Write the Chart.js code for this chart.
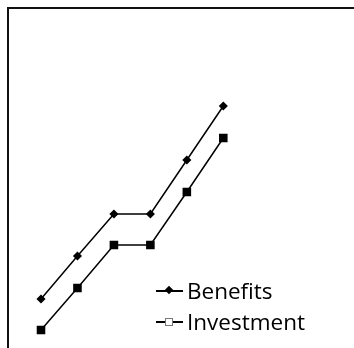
<!DOCTYPE html>
<html>
<head>
<meta charset="utf-8">
<script src="https://cdn.jsdelivr.net/npm/chart.js@4"></script>
<style>
  html, body { margin: 0; padding: 0; background: #fff; overflow: hidden; }
  #wrap { position: relative; width: 354px; height: 348px; }
  #frame {
    position: absolute; left: 7px; top: 7px; width: 400px; height: 400px;
    border-top: 2px solid #111; border-left: 2px solid #111;
  }
  #chart { position: absolute; left: 0; top: 0; }
  #legend {
    position: absolute; left: 156px; top: 275px;
    font-family: "Open Sans", sans-serif; font-size: 22.5px; color: #000;
  }
  .row { display: flex; align-items: center; height: 31px; }
  .sym { position: relative; width: 27px; height: 31px; margin-right: 4px; }
  .sym .ln { position: absolute; left: 0; right: 0; top: 15px; height: 1.5px; background: #000; }
  .sym .mk { position: absolute; }
</style>
</head>
<body>
<div id="wrap">
  <div id="frame"></div>
  <canvas id="chart" width="354" height="348"></canvas>
  <div id="legend"></div>
</div>
<script>
// Luokat (x-akseli) ja sarjojen arvot luettu kuvasta
const periods = ['1', '2', '3', '4', '5', '6'];
const benefits = [4.1, 8.4, 12.6, 12.6, 18.0, 23.4];
const investment = [1.0, 5.2, 9.5, 9.5, 14.8, 20.2];
const seriesNames = ['Benefits', 'Investment'];

const ctx = document.getElementById('chart').getContext('2d');
const chart = new Chart(ctx, {
  type: 'line',
  data: {
    labels: periods,
    datasets: [{
      label: seriesNames[0],
      data: benefits,
      borderColor: '#000',
      backgroundColor: '#000',
      borderWidth: 1.5,
      pointStyle: 'rectRot',
      pointRadius: 3.5,
      tension: 0
    }, {
      label: seriesNames[1],
      data: investment,
      borderColor: '#000',
      backgroundColor: '#000',
      borderWidth: 1.5,
      pointStyle: 'rect',
      pointRadius: 5,
      tension: 0
    }]
  },
  options: {
    responsive: false,
    animation: false,
    clip: false,
    layout: { autoPadding: false, padding: { left: 41, right: 130.7, top: 0, bottom: 8 } },
    scales: {
      x: { display: false, offset: false },
      y: { display: false, min: 0, max: 34 }
    },
    plugins: { legend: { display: false }, tooltip: { enabled: false } }
  }
});

// HTML-selite, kuten kuvassa
const legend = document.getElementById('legend');
chart.data.datasets.forEach((ds, i) => {
  const marker = i === 0
    ? '<span class="mk" style="left:10px;top:12px;width:6px;height:6px;background:#000;transform:rotate(45deg)"></span>'
    : '<span class="mk" style="left:9px;top:12px;width:6px;height:6px;background:#fff;border:1px solid #777"></span>';
  legend.innerHTML += `
    <div class="row">
      <span class="sym"><span class="ln"></span>${marker}</span>
      <span>${ds.label}</span>
    </div>`;
});
</script>
</body>
</html>
